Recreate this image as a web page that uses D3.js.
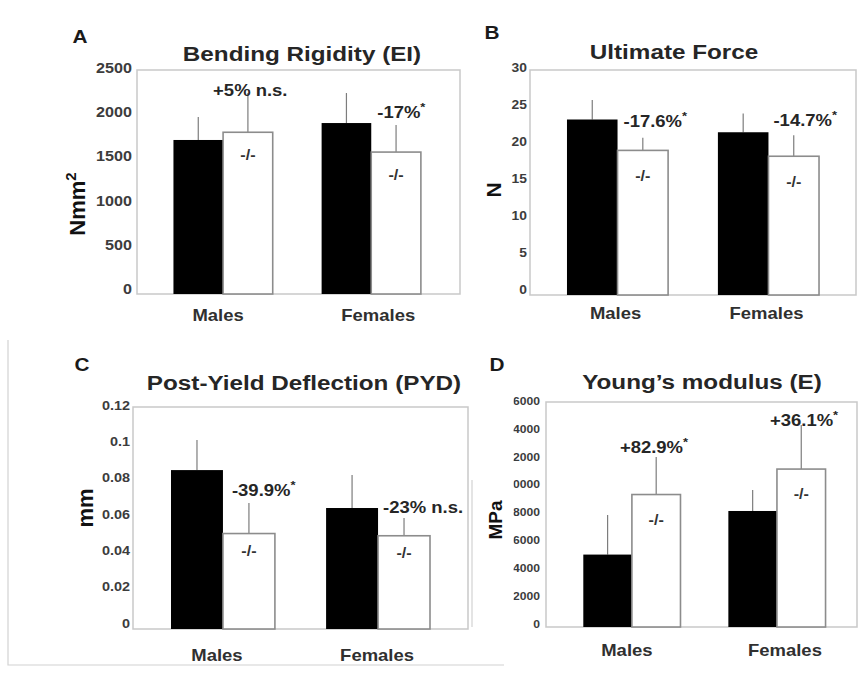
<!DOCTYPE html>
<html>
<head>
<meta charset="utf-8">
<script src="https://cdn.jsdelivr.net/npm/d3@7"></script>
<style>
  html, body { margin: 0; background: #fff; }
  svg { display: block; }
</style>
</head>
<body>
<script>
// ---- data -------------------------------------------------------------
const groups = ["Males", "Females"];

// A: bending rigidity (Nmm²)
const rigidityWT   = [1719, 1908];
const rigiditySdWT = [256, 335];
const rigidityKO   = [1805, 1584];
const rigiditySdKO = [438, 302];
const rigidityNotes = ["+5% n.s.", "-17%*"];
const rigidityTicks = [0, 500, 1000, 1500, 2000, 2500];

// B: ultimate force (N)
const forceWT   = [23.4, 21.7];
const forceSdWT = [2.6, 2.5];
const forceKO   = [19.28, 18.5];
const forceSdKO = [1.7, 2.8];
const forceNotes = ["-17.6%*", "-14.7%*"];
const forceTicks = [0, 5, 10, 15, 20, 25, 30];

// C: post-yield deflection (mm)
const pydWT   = [0.0859, 0.0654];
const pydSdWT = [0.0163, 0.0178];
const pydKO   = [0.0516, 0.0504];
const pydSdKO = [0.0165, 0.0096];
const pydNotes = ["-39.9%*", "-23% n.s."];
const pydTicks = [0, 0.02, 0.04, 0.06, 0.08, 0.1, 0.12];

// D: Young's modulus (MPa)
const modulusWT   = [5150, 8250];
const modulusSdWT = [2814, 1492];
const modulusKO   = [9420, 11230];
const modulusSdKO = [2669, 3134];
const modulusNotes = ["+82.9%*", "+36.1%*"];
const modulusTicks = [0, 2000, 4000, 6000, 8000, 10000, 12000, 14000, 16000];

const koMark = "-/-";

// ---- layout -----------------------------------------------------------
const W = 859, H = 679;
const SX = 1.155;             // horizontal stretch of the lettering
const FONT = "'Liberation Sans', Arial, Helvetica, sans-serif";

const svg = d3.select("body").append("svg")
  .attr("width", W).attr("height", H)
  .attr("viewBox", `0 0 ${W} ${H}`);

svg.append("rect").attr("width", W).attr("height", H).attr("fill", "#fff");

// light page rules around the figure
const rules = svg.append("g").attr("stroke", "#d2d2d2").attr("stroke-width", 1.2).attr("fill", "none");
rules.append("path").attr("d", "M8,340V665H504");
rules.append("path").attr("d", "M472,480V627");

function txt(parent, x, y, str, o = {}) {
  const g = parent.append("g")
    .attr("transform", `translate(${x},${y}) scale(${o.sx ?? SX},1)`);
  return g.append("text")
    .attr("text-anchor", o.anchor || "middle")
    .attr("font-family", FONT)
    .attr("font-weight", "bold")
    .attr("font-size", o.size || 16)
    .attr("fill", o.fill || "#222")
    .text(str);
}

// a note whose trailing "*" is set as a superscript
function note(parent, x, y, str, size) {
  const star = str.endsWith("*");
  const t = txt(parent, x, y, star ? str.slice(0, -1) : str, { anchor: "start", size, fill: "#262626" });
  if (star) t.append("tspan").attr("dy", -7).attr("font-size", size * 0.7).text("*");
}

function panel(cfg) {
  const g = svg.append("g");
  const f = cfg.frame;

  const y = d3.scaleLinear().domain(cfg.domain).range([f.b, f.t]);
  const x = d3.scaleBand().domain(groups).range([f.l, f.r])
    .paddingInner(0).paddingOuter(cfg.outer).align(cfg.align);
  const barW = x.step() * 0.335;
  const cx = d => x(d) + x.bandwidth() / 2;

  // plot frame
  g.append("rect")
    .attr("x", f.l).attr("y", f.t)
    .attr("width", f.r - f.l).attr("height", f.b - f.t)
    .attr("fill", "none").attr("stroke", "#c9c9c9").attr("stroke-width", 1.5);

  // y axis labels
  const axisG = g.append("g").attr("transform", `translate(${f.l},0)`);
  if (cfg.clipTicks) {
    const id = "clip" + cfg.letter;
    svg.append("clipPath").attr("id", id)
      .append("rect").attr("x", cfg.clipTicks - f.l).attr("y", 0)
      .attr("width", f.l - cfg.clipTicks).attr("height", H);
    axisG.attr("clip-path", `url(#${id})`);
  }
  const axis = d3.axisLeft(y).tickValues(cfg.ticks).tickSize(0).tickPadding(0)
    .tickFormat(cfg.fmt);
  axisG.call(axis);
  axisG.select(".domain").remove();
  axisG.selectAll(".tick text")
    .attr("x", 0)
    .attr("font-family", FONT).attr("font-weight", "bold")
    .attr("font-size", cfg.tickSize).attr("fill", "#3c3c3c")
    .attr("dy", "0.32em")
    .attr("transform", t => `translate(${-cfg.tickPad},${cfg.tickShift(t)}) scale(${SX},1)`);

  // bars
  groups.forEach((grp, i) => {
    const c = cx(grp);
    const wt = cfg.wt[i], ko = cfg.ko[i];
    // error whiskers (upper half only)
    g.append("line")
      .attr("x1", c - barW / 2).attr("x2", c - barW / 2)
      .attr("y1", y(wt)).attr("y2", y(wt + cfg.sdWT[i]))
      .attr("stroke", "#7d7d7d").attr("stroke-width", 1.2);
    g.append("line")
      .attr("x1", c + barW / 2).attr("x2", c + barW / 2)
      .attr("y1", y(ko)).attr("y2", y(ko + cfg.sdKO[i]))
      .attr("stroke", "#7d7d7d").attr("stroke-width", 1.2);

    g.append("rect")
      .attr("x", c - barW).attr("y", y(wt))
      .attr("width", barW).attr("height", y(0) - y(wt))
      .attr("fill", "#000");
    g.append("rect")
      .attr("x", c).attr("y", y(ko))
      .attr("width", barW).attr("height", y(0) - y(ko))
      .attr("fill", "#fff").attr("stroke", "#8c8c8c").attr("stroke-width", 1.6);

    txt(g, c + barW / 2, y(ko) + cfg.koDy, koMark, { size: 14, fill: "#333" });
    note(g, c + cfg.noteDx[i], y(ko + cfg.sdKO[i]) + cfg.noteDy[i], cfg.notes[i], 16);

    txt(g, c + cfg.catDx[i], cfg.catY, grp, { size: 16, fill: "#303030" });
  });

  // panel letter, title, y-axis title
  txt(g, cfg.letterX, cfg.letterY, cfg.letter, { size: 18, fill: "#1a1a1a" });
  txt(g, cfg.titleX, cfg.titleY, cfg.title, { size: 21, fill: "#262626" });

  const yt = g.append("text")
    .attr("transform", `translate(${cfg.yTitleX},${cfg.yTitleY}) rotate(-90)`)
    .attr("text-anchor", "middle")
    .attr("font-family", FONT).attr("font-weight", "bold")
    .attr("font-size", cfg.yTitleSize).attr("fill", "#111")
    .text(cfg.yTitle);
  if (cfg.yTitleSup) yt.append("tspan").attr("dy", -9).attr("font-size", cfg.yTitleSize * 0.68).text(cfg.yTitleSup);
}

panel({
  letter: "A", letterX: 80, letterY: 43,
  title: "Bending Rigidity (EI)", titleX: 302, titleY: 61,
  yTitle: "Nmm", yTitleSup: "2", yTitleX: 85, yTitleY: 204, yTitleSize: 22,
  frame: { l: 137, t: 70, r: 460, b: 294 },
  domain: [0, 2500], ticks: rigidityTicks, fmt: d3.format("d"),
  tickSize: 14, tickPad: 5, tickShift: v => -2 - 3 * (1 - v / 2500),
  outer: 0.09, align: 0.45,
  wt: rigidityWT, sdWT: rigiditySdWT, ko: rigidityKO, sdKO: rigiditySdKO,
  notes: rigidityNotes, noteDx: [-10, 6], noteDy: [3, -7], koDy: 28,
  catDx: [-5, 7], catY: 321
});

panel({
  letter: "B", letterX: 492, letterY: 39,
  title: "Ultimate Force", titleX: 674, titleY: 59,
  yTitle: "N", yTitleX: 501, yTitleY: 190, yTitleSize: 21,
  frame: { l: 530, t: 70, r: 856, b: 295 },
  domain: [0, 30], ticks: forceTicks, fmt: d3.format("d"),
  tickSize: 12, tickPad: 3, tickShift: v => -2 - 3 * (1 - v / 30),
  outer: 0.08, align: 0.5,
  wt: forceWT, sdWT: forceSdWT, ko: forceKO, sdKO: forceSdKO,
  notes: forceNotes, noteDx: [6, 5], noteDy: [-11, -9], koDy: 31,
  catDx: [-2, -2], catY: 319
});

panel({
  letter: "C", letterX: 82, letterY: 371,
  title: "Post-Yield Deflection (PYD)", titleX: 304, titleY: 390,
  yTitle: "mm", yTitleX: 93, yTitleY: 508, yTitleSize: 22,
  frame: { l: 133, t: 407, r: 468, b: 629 },
  domain: [0, 0.12], ticks: pydTicks, fmt: d => d === 0 ? "0" : d3.format(".2~f")(d),
  tickSize: 12.5, tickPad: 3, tickShift: v => -2 - 4 * (1 - v / 0.12),
  outer: 0.08, align: 0.5,
  wt: pydWT, sdWT: pydSdWT, ko: pydKO, sdKO: pydSdKO,
  notes: pydNotes, noteDx: [9, 5], noteDy: [-7, -5], koDy: 22,
  catDx: [-6, -1], catY: 661
});

panel({
  letter: "D", letterX: 497, letterY: 371,
  title: "Young\u2019s modulus (E)", titleX: 702, titleY: 389,
  yTitle: "MPa", yTitleX: 502, yTitleY: 520, yTitleSize: 19,
  frame: { l: 546, t: 402, r: 857, b: 627 },
  domain: [0, 16000], ticks: modulusTicks, fmt: d3.format("d"),
  tickSize: 10.5, tickPad: 6, tickShift: v => -1 - 2 * (1 - v / 16000),
  clipTicks: 513.5,
  outer: 0.072, align: 0.64,
  wt: modulusWT, sdWT: modulusSdWT, ko: modulusKO, sdKO: modulusSdKO,
  notes: modulusNotes, noteDx: [-12, -7], noteDy: [-4, 1], koDy: 30,
  catDx: [-5, 8], catY: 656
});
</script>
</body>
</html>
